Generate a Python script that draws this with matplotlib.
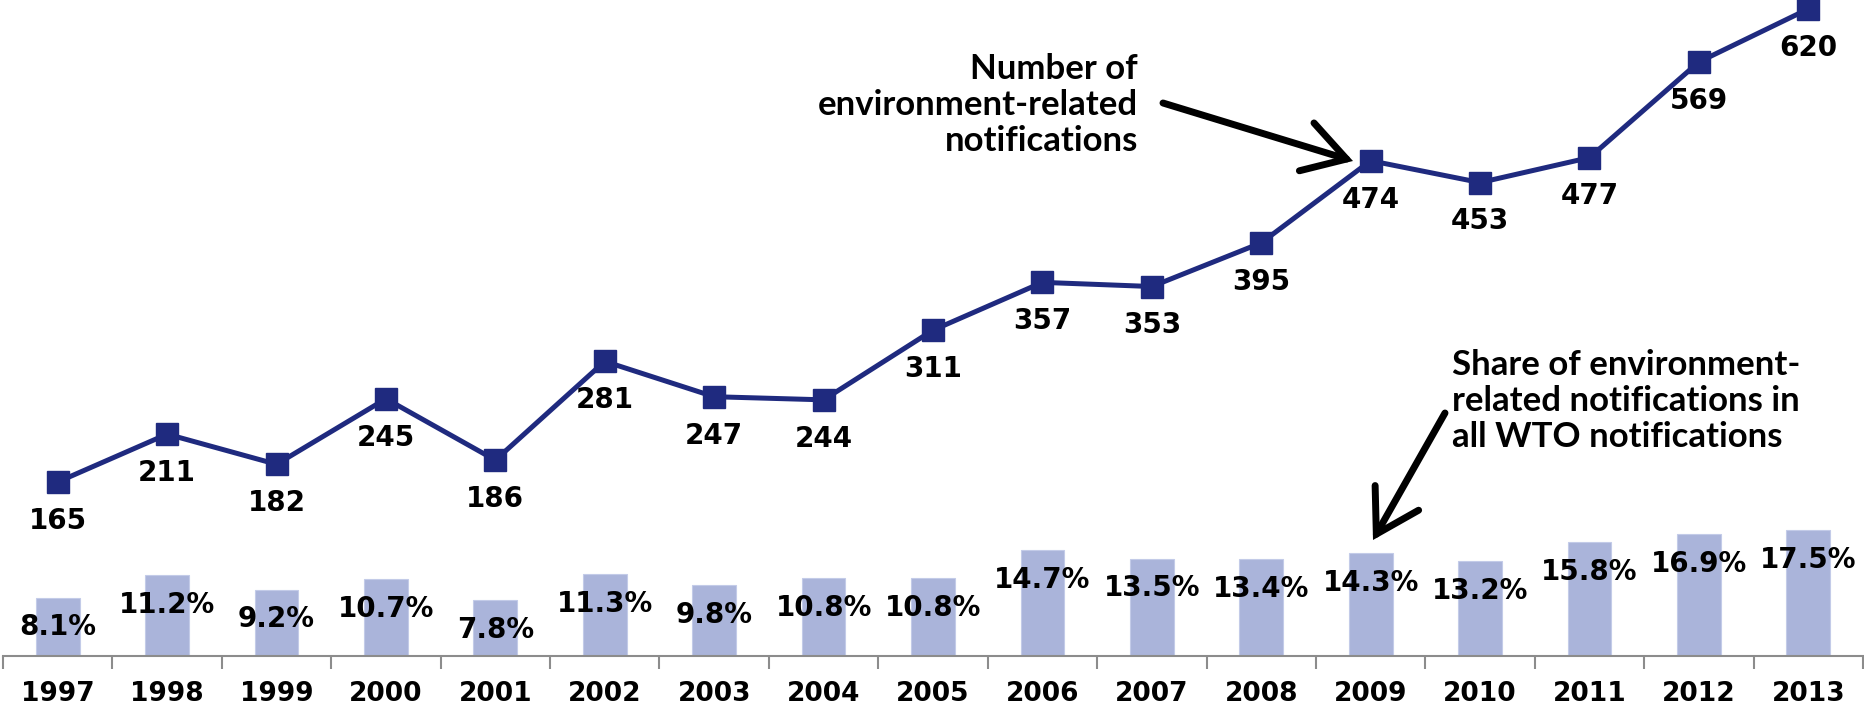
import numpy as np
import matplotlib
matplotlib.use("Agg")
import matplotlib.pyplot as plt

years = ["1997", "1998", "1999", "2000", "2001", "2002", "2003", "2004", "2005",
         "2006", "2007", "2008", "2009", "2010", "2011", "2012", "2013"]
env_notifications = [165, 211, 182, 245, 186, 281, 247, 244, 311,
                     357, 353, 395, 474, 453, 477, 569, 620]
env_share = [8.1, 11.2, 9.2, 10.7, 7.8, 11.3, 9.8, 10.8, 10.8,
             14.7, 13.5, 13.4, 14.3, 13.2, 15.8, 16.9, 17.5]

LINE_COLOR = "#1f2a7f"
BAR_COLOR = "#aab4da"
AXIS_GRAY = "#8c8c8c"

W, H = 1865, 709
fig = plt.figure(figsize=(W / 100, H / 100), dpi=100)

# axes box in pixels: x 3..1863, baseline at y=656 (from top)
ax = fig.add_axes([3 / W, (H - 656) / H, 1860 / W, 656 / H])
ax2 = ax.twinx()

x = np.arange(len(years))

# bars: share in all WTO notifications
ax.bar(x, env_share, width=0.4, color=BAR_COLOR, edgecolor="#c3cbe8", linewidth=0.8, zorder=2)
ax.set_ylim(0, 90.9)
ax.set_xlim(-0.5, len(years) - 0.5)
for xi, v in zip(x, env_share):
    ax.annotate(f"{v:.1f}%", (xi, v), xytext=(0, -21.5), textcoords="offset points",
                ha="center", va="center", fontsize=20, fontweight="bold",
                family="DejaVu Sans", color="black", zorder=5)

# line: number of environment-related notifications
ax2.plot(x, env_notifications, color=LINE_COLOR, linewidth=3.6, marker="s",
         markersize=16, markerfacecolor=LINE_COLOR, markeredgecolor=LINE_COLOR, zorder=3)
ax2.set_ylim(-2.4, 628.6)
for xi, v in zip(x, env_notifications):
    ax2.annotate(f"{v}", (xi, v), xytext=(0, -28), textcoords="offset points",
                 ha="center", va="center", fontsize=20, fontweight="bold",
                 family="DejaVu Sans", color="black")

# axis styling
for a in (ax, ax2):
    for s in ("top", "right", "left"):
        a.spines[s].set_visible(False)
    a.set_yticks([])
ax2.spines["bottom"].set_visible(False)
ax.spines["bottom"].set_color(AXIS_GRAY)
ax.spines["bottom"].set_linewidth(1.5)
ax.spines["bottom"].set_zorder(4)

ax.set_xticks(x)
ax.set_xticklabels(years, fontsize=19, fontweight="bold", family="DejaVu Sans")
ax.tick_params(axis="x", which="major", length=0, pad=18)
ax.set_xticks(np.arange(-0.5, len(years)), minor=True)
ax.tick_params(axis="x", which="minor", length=9, width=1.5, color=AXIS_GRAY, direction="out")

# annotations (figure pixel positions)
def fp(px, py):
    return (px / W, 1 - py / H)

ann_font = dict(fontsize=25, fontweight="bold", family=["Lato", "DejaVu Sans"],
                color="black", linespacing=1.15)

fig.text(*fp(1138, 105), "Number of\nenvironment-related\nnotifications",
         ha="right", va="center", multialignment="right", **ann_font)
fig.text(*fp(1452, 401), "Share of environment-\nrelated notifications in\nall WTO notifications",
         ha="left", va="center", multialignment="left", **ann_font)

arrow_kw = dict(arrowstyle="->,head_length=1.5,head_width=0.9", color="black",
                lw=5, shrinkA=0, shrinkB=0, mutation_scale=20,
                capstyle="round", joinstyle="miter")
fig.add_artist(matplotlib.patches.FancyArrowPatch(
    fp(1163, 103), fp(1353, 161), transform=fig.transFigure, **arrow_kw))
fig.add_artist(matplotlib.patches.FancyArrowPatch(
    fp(1445, 413), fp(1373, 540), transform=fig.transFigure, **arrow_kw))

fig.savefig("out.png", dpi=100)
